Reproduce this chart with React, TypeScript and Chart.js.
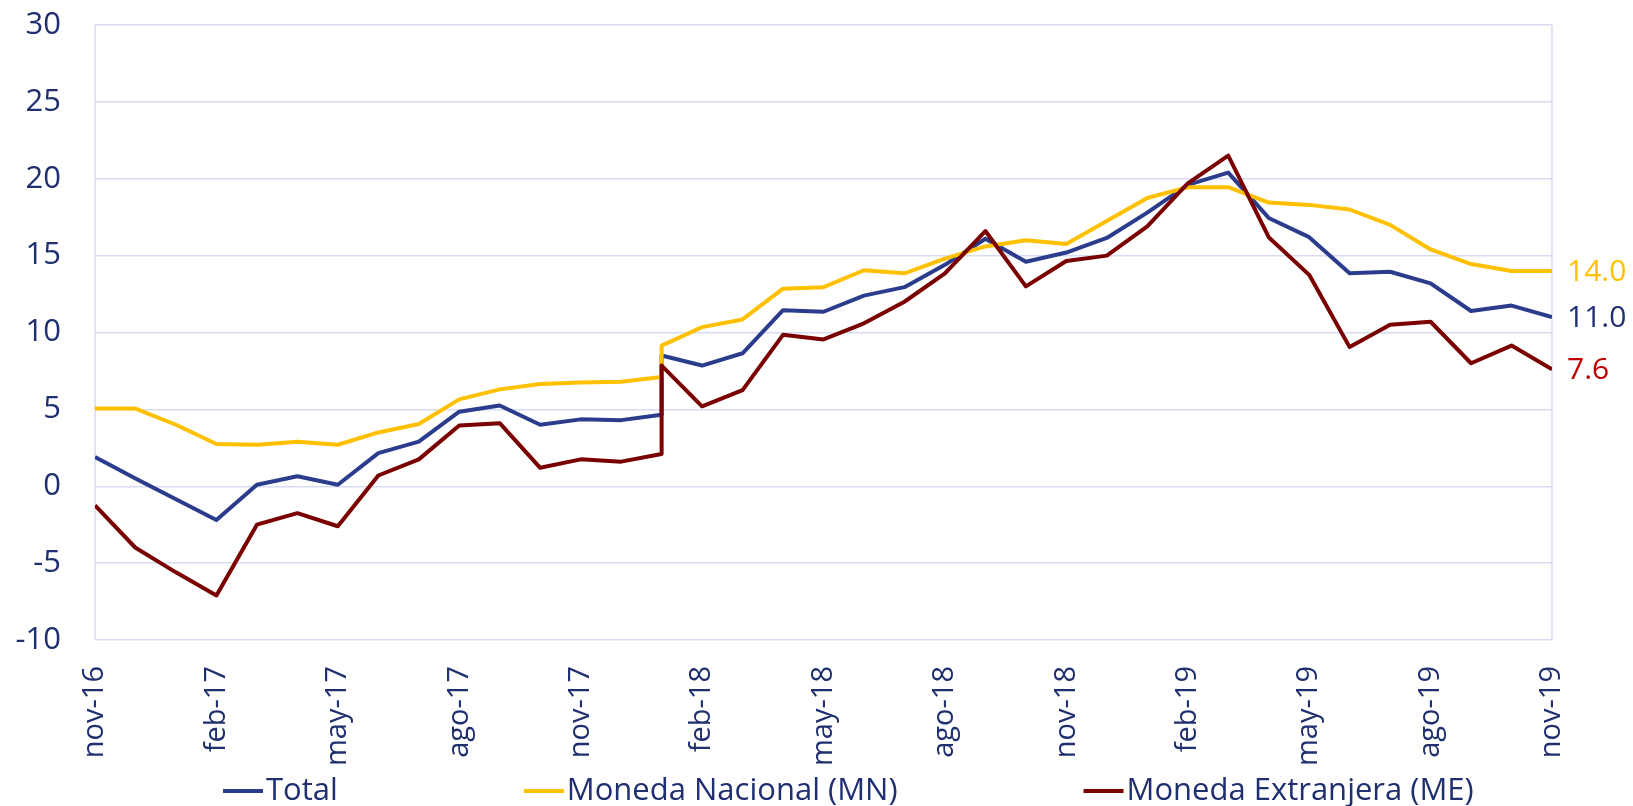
import React, { useEffect, useRef } from "react";
import { Chart, registerables } from "chart.js";

Chart.register(...registerables);

const months = [
  "nov-16", "dic-16", "ene-17", "feb-17", "mar-17", "abr-17", "may-17", "jun-17", "jul-17", "ago-17",
  "sep-17", "oct-17", "nov-17", "dic-17", "ene-18", "feb-18", "mar-18", "abr-18", "may-18", "jun-18",
  "jul-18", "ago-18", "sep-18", "oct-18", "nov-18", "dic-18", "ene-19", "feb-19", "mar-19", "abr-19",
  "may-19", "jun-19", "jul-19", "ago-19", "sep-19", "oct-19", "nov-19",
];

// Series break: the old basis ends at ene-18, the new basis starts at ene-18
const breakIndex = 14;

const totalOld = [1.9, 0.5, -0.85, -2.2, 0.1, 0.65, 0.1, 2.15, 2.9, 4.85, 5.25, 4.0, 4.35, 4.3, 4.65];
const totalNew = [8.5, 7.85, 8.65, 11.45, 11.35, 12.4, 12.95, 14.4, 16.1, 14.6, 15.2, 16.15, 17.8, 19.6, 20.4, 17.45, 16.2, 13.85, 13.95, 13.2, 11.4, 11.75, 11.0];

const mnOld = [5.05, 5.05, 4.0, 2.75, 2.7, 2.9, 2.7, 3.5, 4.05, 5.65, 6.3, 6.65, 6.75, 6.8, 7.1];
const mnNew = [9.15, 10.35, 10.85, 12.85, 12.95, 14.05, 13.85, 14.8, 15.6, 16.0, 15.75, 17.25, 18.75, 19.45, 19.45, 18.45, 18.3, 18.0, 17.0, 15.4, 14.45, 14.0, 14.0];

const meOld = [-1.25, -4.0, -5.6, -7.1, -2.5, -1.75, -2.6, 0.7, 1.75, 3.95, 4.1, 1.2, 1.75, 1.6, 2.1];
const meNew = [7.85, 5.2, 6.25, 9.85, 9.55, 10.6, 12.0, 13.85, 16.6, 13.0, 14.65, 15.0, 16.9, 19.7, 21.5, 16.2, 13.75, 9.05, 10.5, 10.7, 8.0, 9.15, 7.6];

const seriesNames = ["Total", "Moneda Nacional (MN)", "Moneda Extranjera (ME)"];
const lineColors = ["#2B3C8C", "#FFC000", "#7A0000"];
const endLabelColors = ["#1F2F6F", "#FFC000", "#C00000"];

const yTicks = { min: -10, max: 30, step: 5 };

const TEXT = "#1F2F6F";
const GRID = "#D7DBF1";
const FONT = "'Open Sans', 'Noto Sans', sans-serif";

function toPoints(oldVals: number[], newVals: number[]) {
  const a = oldVals.map((y, i) => ({ x: i, y }));
  const b = newVals.map((y, i) => ({ x: breakIndex + i, y }));
  return a.concat(b);
}

const plotBorder = {
  id: "plotBorder",
  beforeDatasetsDraw(chart: any) {
    const { ctx, chartArea } = chart;
    ctx.save();
    ctx.strokeStyle = GRID;
    ctx.lineWidth = 1.5;
    ctx.beginPath();
    ctx.moveTo(chartArea.left, chartArea.top);
    ctx.lineTo(chartArea.left, chartArea.bottom);
    ctx.moveTo(chartArea.right, chartArea.top);
    ctx.lineTo(chartArea.right, chartArea.bottom);
    ctx.stroke();
    ctx.restore();
  },
};

const endLabels = {
  id: "endLabels",
  afterDatasetsDraw(chart: any) {
    const ctx = chart.ctx;
    ctx.save();
    ctx.font = `30px ${FONT}`;
    ctx.textAlign = "left";
    ctx.textBaseline = "middle";
    chart.data.datasets.forEach((ds: any, i: number) => {
      const meta = chart.getDatasetMeta(i);
      const el = meta.data[meta.data.length - 1];
      const v = ds.data[ds.data.length - 1].y;
      ctx.fillStyle = ds.endColor;
      ctx.fillText(v.toFixed(1), el.x + 15, el.y + 1);
    });
    ctx.restore();
  },
};

const customLegend = {
  id: "customLegend",
  afterDraw(chart: any) {
    const ctx = chart.ctx;
    ctx.save();
    ctx.font = `31px ${FONT}`;
    ctx.textBaseline = "alphabetic";
    ctx.textAlign = "left";
    const baseline = 800;
    const lineY = 791;
    const gap = 186;
    let x = 223;
    seriesNames.forEach((name, i) => {
      ctx.strokeStyle = lineColors[i];
      ctx.lineWidth = 4;
      ctx.beginPath();
      ctx.moveTo(x, lineY);
      ctx.lineTo(x + 40, lineY);
      ctx.stroke();
      ctx.fillStyle = TEXT;
      ctx.fillText(name, x + 43, baseline);
      x = x + 43 + ctx.measureText(name).width + gap;
    });
    ctx.restore();
  },
};

export default function App() {
  const ref = useRef<HTMLCanvasElement | null>(null);

  useEffect(() => {
    document.body.style.margin = "0";
    document.body.style.overflow = "hidden";
    if (!ref.current) return;
    const datasets = [
      { label: seriesNames[0], data: toPoints(totalOld, totalNew), borderColor: lineColors[0], endColor: endLabelColors[0], order: 2 },
      { label: seriesNames[1], data: toPoints(mnOld, mnNew), borderColor: lineColors[1], endColor: endLabelColors[1], order: 1 },
      { label: seriesNames[2], data: toPoints(meOld, meNew), borderColor: lineColors[2], endColor: endLabelColors[2], order: 0 },
    ].map((d) => ({
      ...d,
      borderWidth: 4,
      pointRadius: 0,
      pointHoverRadius: 0,
      tension: 0,
      fill: false,
      borderJoinStyle: "round" as const,
    }));

    const chart = new Chart(ref.current, {
      type: "line",
      data: { datasets: datasets as any },
      options: {
        animation: false,
        responsive: false,
        devicePixelRatio: 1,
        layout: { padding: { top: 25, right: 81, left: 0, bottom: 0 } },
        plugins: {
          legend: { display: false },
          tooltip: { enabled: false },
        },
        scales: {
          x: {
            type: "linear",
            min: 0,
            max: months.length - 1,
            grid: { display: false, drawTicks: false },
            border: { display: false },
            ticks: {
              stepSize: 3,
              autoSkip: false,
              maxRotation: 90,
              minRotation: 90,
              padding: 26,
              color: TEXT,
              font: { family: FONT, size: 29 },
              callback: (v: any) => months[v as number] ?? "",
            },
            afterFit: (scale: any) => {
              scale.height = 166;
              scale.paddingLeft = 0;
              scale.paddingRight = 0;
            },
          },
          y: {
            min: yTicks.min,
            max: yTicks.max,
            grid: { color: GRID, lineWidth: 1.5, drawTicks: false },
            border: { display: false },
            ticks: {
              stepSize: yTicks.step,
              padding: 34,
              color: TEXT,
              font: { family: FONT, size: 31 },
            },
            afterFit: (scale: any) => {
              scale.width = 95;
              scale.paddingTop = 0;
              scale.paddingBottom = 0;
            },
          },
        },
      },
      plugins: [plotBorder, endLabels, customLegend],
    });
    return () => chart.destroy();
  }, []);

  return (
    <div style={{ width: 1633, height: 806 }}>
      <canvas ref={ref} width={1633} height={806} style={{ display: "block" }} />
    </div>
  );
}
